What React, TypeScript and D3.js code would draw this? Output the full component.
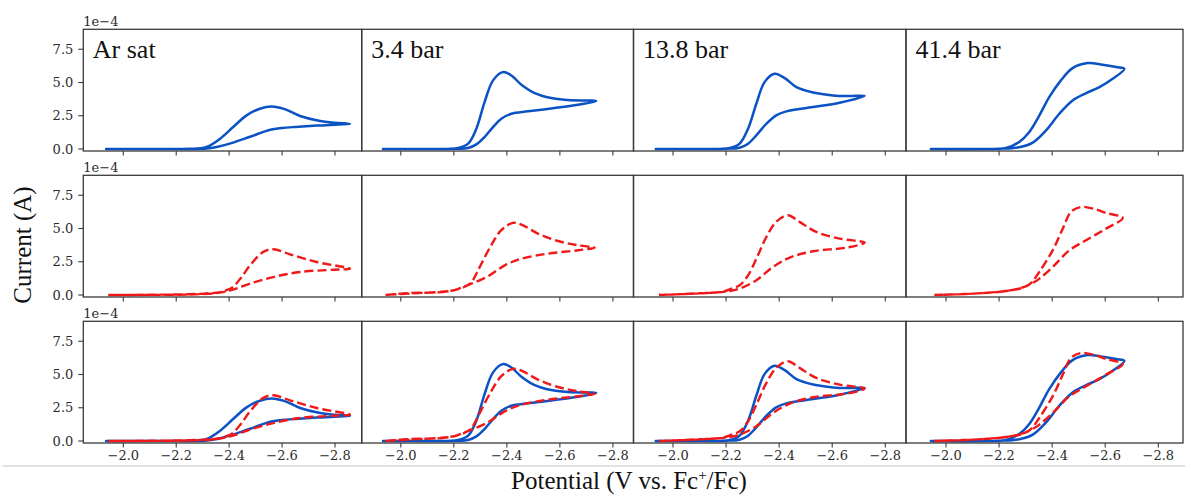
import React from 'react';
import * as d3 from 'd3';

type P = [number, number];

// ---------- data (potential V vs Fc+/Fc, current in 1e-4 A) ----------
const titles = ['Ar sat', '3.4 bar', '13.8 bar', '41.4 bar'];
const xTicks = [-2.0, -2.2, -2.4, -2.6, -2.8];
const yTicks = [0, 2.5, 5.0, 7.5];

// solid (blue) curves: forward scan then reverse scan
const arSatSolid: P[] = [
  [-1.935, 0], [-2.1, 0], [-2.25, 0.01], [-2.3, 0.08], [-2.315, 0.15], [-2.366, 0.78], [-2.415, 1.65],
  [-2.466, 2.53], [-2.516, 3.03], [-2.561, 3.2], [-2.61, 3.0], [-2.668, 2.48], [-2.744, 2.1], [-2.8, 1.98], [-2.857, 1.9],
  [-2.731, 1.76], [-2.65, 1.66], [-2.6, 1.58], [-2.555, 1.45], [-2.479, 0.92], [-2.415, 0.48], [-2.353, 0.15],
  [-2.315, 0.03], [-2.25, 0], [-1.935, 0],
];
const bar3Solid: P[] = [
  [-1.933, 0], [-2.1, 0], [-2.216, 0.08], [-2.254, 0.4], [-2.285, 1.53], [-2.316, 3.53], [-2.348, 5.16],
  [-2.385, 5.78], [-2.417, 5.53], [-2.455, 4.83], [-2.505, 4.2], [-2.567, 3.83], [-2.63, 3.68], [-2.737, 3.6],
  [-2.668, 3.33], [-2.58, 3.08], [-2.48, 2.83], [-2.417, 2.65], [-2.379, 2.28], [-2.348, 1.65], [-2.316, 0.9],
  [-2.285, 0.35], [-2.254, 0.08], [-2.2, 0.02], [-1.933, 0],
];
const bar13Solid: P[] = [
  [-1.935, 0], [-2.1, 0], [-2.214, 0.08], [-2.251, 0.4], [-2.283, 1.53], [-2.314, 3.4], [-2.345, 5.03],
  [-2.383, 5.66], [-2.421, 5.33], [-2.465, 4.65], [-2.528, 4.25], [-2.603, 4.03], [-2.66, 3.98], [-2.722, 4.0],
  [-2.628, 3.48], [-2.528, 3.15], [-2.427, 2.83], [-2.389, 2.53], [-2.352, 1.9], [-2.314, 1.03], [-2.283, 0.4],
  [-2.251, 0.1], [-2.2, 0.02], [-1.935, 0],
];
const bar41Solid: P[] = [
  [-1.943, 0], [-2.1, 0], [-2.226, 0.08], [-2.276, 0.53], [-2.314, 1.28], [-2.352, 2.53], [-2.389, 3.9],
  [-2.433, 5.16], [-2.477, 6.08], [-2.534, 6.46], [-2.59, 6.33], [-2.641, 6.16], [-2.672, 6.03],
  [-2.628, 5.28], [-2.578, 4.65], [-2.528, 4.2], [-2.477, 3.65], [-2.427, 2.65], [-2.377, 1.4], [-2.327, 0.48],
  [-2.276, 0.13], [-2.2, 0.02], [-1.943, 0],
];

// dashed (red) curves: forward scan then reverse scan
const arSatDashed: P[] = [
  [-1.943, 0], [-2.1, 0.02], [-2.25, 0.06], [-2.353, 0.18], [-2.39, 0.36], [-2.415, 0.62], [-2.445, 1.3], [-2.479, 2.23],
  [-2.529, 3.24], [-2.567, 3.44], [-2.63, 3.06], [-2.731, 2.48], [-2.857, 1.98],
  [-2.794, 1.9], [-2.668, 1.73], [-2.567, 1.35], [-2.479, 0.86], [-2.415, 0.4], [-2.353, 0.15], [-2.25, 0.04],
  [-2.1, 0.01], [-1.943, 0],
];
const bar3Dashed: P[] = [
  [-1.942, 0], [-2.04, 0.15], [-2.14, 0.2], [-2.197, 0.35], [-2.241, 0.62], [-2.266, 0.95], [-2.285, 1.6],
  [-2.304, 2.35], [-2.341, 3.74], [-2.379, 4.87], [-2.423, 5.42], [-2.455, 5.29], [-2.517, 4.62], [-2.593, 4.06],
  [-2.668, 3.74], [-2.731, 3.56],
  [-2.668, 3.36], [-2.555, 3.11], [-2.455, 2.73], [-2.392, 2.23], [-2.329, 1.41], [-2.266, 0.85], [-2.228, 0.55],
  [-2.197, 0.33], [-2.1, 0.18], [-1.942, 0.02],
];
const bar13Dashed: P[] = [
  [-1.947, 0], [-2.1, 0.13], [-2.188, 0.25], [-2.22, 0.48], [-2.251, 0.73], [-2.283, 1.48], [-2.314, 2.73],
  [-2.352, 4.37], [-2.389, 5.5], [-2.433, 6.0], [-2.477, 5.5], [-2.54, 4.74], [-2.628, 4.24], [-2.722, 3.94],
  [-2.653, 3.56], [-2.528, 3.29], [-2.44, 2.81], [-2.377, 2.11], [-2.314, 1.11], [-2.251, 0.48], [-2.214, 0.3],
  [-2.1, 0.12], [-1.947, 0.02],
];
const bar41Dashed: P[] = [
  [-1.956, 0], [-2.1, 0.1], [-2.226, 0.3], [-2.289, 0.55], [-2.32, 0.9], [-2.352, 1.75], [-2.402, 3.36],
  [-2.44, 4.99], [-2.471, 6.25], [-2.509, 6.62], [-2.553, 6.5], [-2.603, 6.17], [-2.666, 5.79],
  [-2.603, 4.99], [-2.528, 4.12], [-2.465, 3.36], [-2.402, 2.11], [-2.352, 1.23], [-2.333, 0.98], [-2.3, 0.65],
  [-2.226, 0.3], [-2.1, 0.1], [-1.956, 0],
];

const solidCurves = [arSatSolid, bar3Solid, bar13Solid, bar41Solid];
const dashedCurves = [arSatDashed, bar3Dashed, bar13Dashed, bar41Dashed];

// ---------- layout ----------
const W = 1185;
const H = 496;
const colEdges = [83.3, 361.7, 633.5, 906, 1183];
const colTickPx = [
  [123.3, 335.0],
  [400.8, 612.9],
  [673.0, 885.3],
  [946.0, 1158.3],
];
const rowBottoms = [151, 297, 443];
const panelH = 121.7;
const BLUE = '#0b52c4';
const RED = '#f01818';
const SPINE = '#3a3a3a';
const TICK_FONT = "'DejaVu Serif', 'Liberation Serif', 'Noto Serif', serif";
const LABEL_FONT = "'Liberation Serif', 'Times New Roman', 'DejaVu Serif', serif";

const fmt = (t: number) => t.toFixed(1).replace('-', '\u2212');

export default function App() {
  const rows = [0, 1, 2];
  const cols = [0, 1, 2, 3];
  return (
    <svg
      width={W}
      height={H}
      style={{ position: 'absolute', left: 0, top: 0, background: '#fff' }}
      xmlns="http://www.w3.org/2000/svg"
    >
      <rect x={0} y={0} width={W} height={H} fill="#fff" />
      {rows.map((r) => {
        const bottom = rowBottoms[r];
        const top = bottom - panelH;
        const y = d3.scaleLinear().domain([-0.15, 9.0]).range([bottom, top]);
        return (
          <g key={r}>
            <text x={colEdges[0]} y={top - 3.5} style={{ fontFamily: TICK_FONT }} fontSize={13} fill="#2a2a2a">
              1e{'\u2212'}4
            </text>
            {cols.map((c) => {
              const x0 = colEdges[c];
              const x1 = colEdges[c + 1];
              const x = d3.scaleLinear().domain([-2.0, -2.8]).range(colTickPx[c]);
              const line = d3
                .line<P>()
                .x((d) => x(d[0]))
                .y((d) => y(d[1]))
                .curve(d3.curveCatmullRom.alpha(0.5));
              return (
                <g key={c}>
                  {(r === 0 || r === 2) && (
                    <path d={line(solidCurves[c]) || ''} fill="none" stroke={BLUE} strokeWidth={2.5} strokeLinejoin="round" strokeLinecap="round" />
                  )}
                  {(r === 1 || r === 2) && (
                    <path d={line(dashedCurves[c]) || ''} fill="none" stroke={RED} strokeWidth={2.4} strokeDasharray="9 4" strokeLinejoin="round" />
                  )}
                  <rect x={x0} y={top} width={x1 - x0} height={panelH} fill="none" stroke={SPINE} strokeWidth={1.3} />
                  {xTicks.map((t) => (
                    <g key={t}>
                      <line x1={x(t)} x2={x(t)} y1={bottom} y2={bottom + 4.5} stroke={SPINE} strokeWidth={1.1} />
                      {r === 2 && (
                        <text x={x(t)} y={bottom + 16.5} textAnchor="middle" style={{ fontFamily: TICK_FONT }} fontSize={13} fill="#2a2a2a">
                          {fmt(t)}
                        </text>
                      )}
                    </g>
                  ))}
                  {c === 0 &&
                    yTicks.map((t) => (
                      <g key={t}>
                        <line x1={x0 - 5} x2={x0} y1={y(t)} y2={y(t)} stroke={SPINE} strokeWidth={1.1} />
                        <text x={x0 - 10} y={y(t) + 4.5} textAnchor="end" style={{ fontFamily: TICK_FONT }} fontSize={13} fill="#2a2a2a">
                          {t.toFixed(1)}
                        </text>
                      </g>
                    ))}
                  {r === 0 && (
                    <text x={x0 + 9.5} y={top + 28.5} style={{ fontFamily: LABEL_FONT }} fontSize={26} fill="#111">
                      {titles[c]}
                    </text>
                  )}
                </g>
              );
            })}
          </g>
        );
      })}
      <line x1={3} x2={W} y1={466} y2={466} stroke="#c4c4c4" strokeWidth={1.2} />
      <text
        transform="translate(31,245) rotate(-90)"
        textAnchor="middle"
        style={{ fontFamily: LABEL_FONT }}
        fontSize={25}
        fill="#111"
      >
        Current (A)
      </text>
      <text x={629} y={489} textAnchor="middle" style={{ fontFamily: LABEL_FONT }} fontSize={25} fill="#111">
        Potential (V vs. Fc
        <tspan dy={-9} fontSize={15}>+</tspan>
        <tspan dy={9}>/Fc)</tspan>
      </text>
    </svg>
  );
}
